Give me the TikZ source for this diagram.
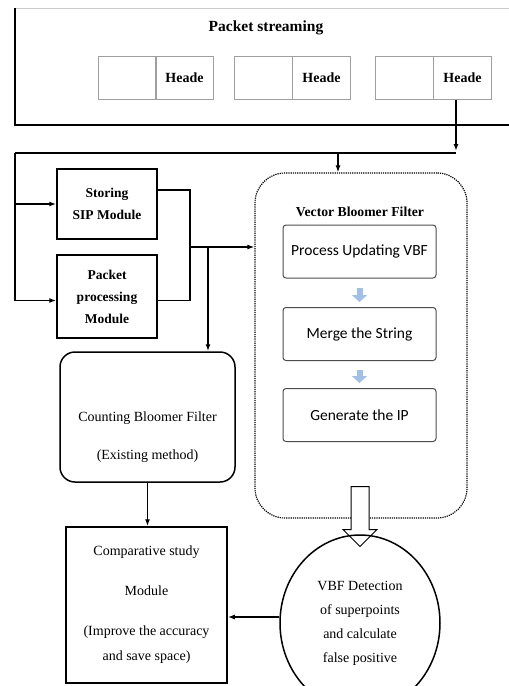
\documentclass[tikz,border=0pt]{standalone}
\usepackage{fontspec}
\setmainfont{Liberation Serif}
\newfontfamily\sansf{Carlito}
\usetikzlibrary{arrows.meta,shapes.geometric,shapes.arrows}
\definecolor{bleuclair}{RGB}{160,192,232}

\begin{document}
\begin{tikzpicture}[
    x=1pt, y=-1pt,
    % Reglages des traits et des fleches
    trait/.style={line width=1.5pt},
    fleche/.style={trait, -{Latex[length=7pt,width=5pt]}},
    % Boites du flux de paquets
    paquet/.style={draw=gray!75, line width=1pt, minimum width=58pt, minimum height=43pt, inner sep=0pt},
    entete/.style={paquet, font=\bfseries\fontsize{14}{16}\selectfont},
    module/.style={draw, trait, minimum width=100pt, align=center, font=\bfseries\fontsize{13.5}{22}\selectfont},
    etape/.style={draw=black!70, line width=1pt, rounded corners=3pt, minimum width=153pt, minimum height=53pt, font=\sansf\fontsize{15.5}{18}\selectfont},
    bleu/.style={line width=6pt, draw=bleuclair, -{Triangle[length=7pt,width=15pt]}, shorten <=9pt, shorten >=5pt},
    texte/.style={align=center, font=\fontsize{14}{17}\selectfont}
]
\useasboundingbox (0,0) rectangle (509,686);
\clip (0,0) rectangle (509,686);

% Flux de paquets
\draw[gray!40, line width=1pt] (15,8) -- (509,8);
\draw[trait] (15,8) -- (15,125) -- (509,125);
\node[font=\bfseries\fontsize{15.5}{18}\selectfont] (titre) at (266,28) {Packet streaming};
\node[paquet] (b1) at (127,77.5) {};
\node[entete] (h1) at (184.5,77.5) {Heade};
\node[paquet] (b2) at (263.5,77.5) {};
\node[entete] (h2) at (321.5,77.5) {Heade};
\node[paquet] (b3) at (404.5,77.5) {};
\node[entete] (h3) at (462.5,77.5) {Heade};

% Modules de gauche
\node[module, minimum height=70pt] (sip) at (107,204) {Storing\\SIP Module};
\node[module, minimum height=83pt] (pp) at (107,296.5) {Packet\\processing\\Module};

% Filtre vectoriel
\node[draw, dash pattern=on 1.2pt off 1pt, line width=1.2pt, rounded corners=30pt, minimum width=212pt, minimum height=345pt] (vbf) at (361,345.5) {};
\node[font=\bfseries\fontsize{13.7}{16}\selectfont] (vbft) at (360,212) {Vector Bloomer Filter};
\node[etape] (e1) at (359.5,251.5) {Process Updating VBF};
\node[etape] (e2) at (359.5,334) {Merge the String};
\node[etape] (e3) at (359.5,415) {Generate the IP};
\draw[bleu] (e1.south) -- (e2.north);
\draw[bleu] (e2.south) -- (e3.north);

% Filtre a comptage et etude comparative
\node[draw, trait, rounded corners=15pt, minimum width=175pt, minimum height=130pt,
    label={[texte, yshift=-20pt]center:{Counting Bloomer Filter\\[21pt](Existing method)}}] (cbf) at (147.5,417) {};
\node[draw, trait, texte, minimum width=161pt, minimum height=156pt] (comp) at (146.5,605)
    {Comparative study\\[23pt]Module\\[23pt](Improve the accuracy\\[8pt]and save space)};

% Detection
\node[single arrow, draw, fill=white, line width=1pt, rotate=-90, minimum height=60pt, inner sep=8.5pt,
    single arrow head extend=8pt, single arrow head indent=0pt] (bloc) at (360,512) {};
\node[ellipse, draw, trait, minimum width=160pt, minimum height=176pt, texte, font=\fontsize{14}{24}\selectfont] (vbfd) at (360,623)
    {VBF Detection\\of superpoints\\and calculate\\false positive};

% Connexions
\coordinate (bus) at (456,153);
\coordinate (gauche) at (15,153);
\coordinate (jonction) at (190,247);
\coordinate (jonction2) at (208,247);
\draw[fleche] ([xshift=-6.5pt]h3.south) -- ([yshift=2pt]bus);
\draw[trait] (bus) -- (gauche);
\draw[fleche] (gauche) |- ([yshift=-4pt]pp.west);
\draw[fleche] (gauche |- sip.west) -- (sip.west);
\draw[fleche] ([xshift=-23pt]vbf.north |- bus) -- ([xshift=-23pt]vbf.north);
\draw[trait] ([yshift=14pt]sip.east) -| (jonction) |- ([yshift=-4pt]pp.east);
\draw[fleche] (jonction) -- (jonction -| vbf.west);
\draw[fleche] (jonction2) -- (jonction2 |- cbf.north);
\draw[fleche] (cbf.south) -- (cbf.south |- comp.north);
\draw[fleche] ([yshift=6pt]vbfd.west) -- ([yshift=6pt]vbfd.west -| comp.east);
\end{tikzpicture}
\end{document}
